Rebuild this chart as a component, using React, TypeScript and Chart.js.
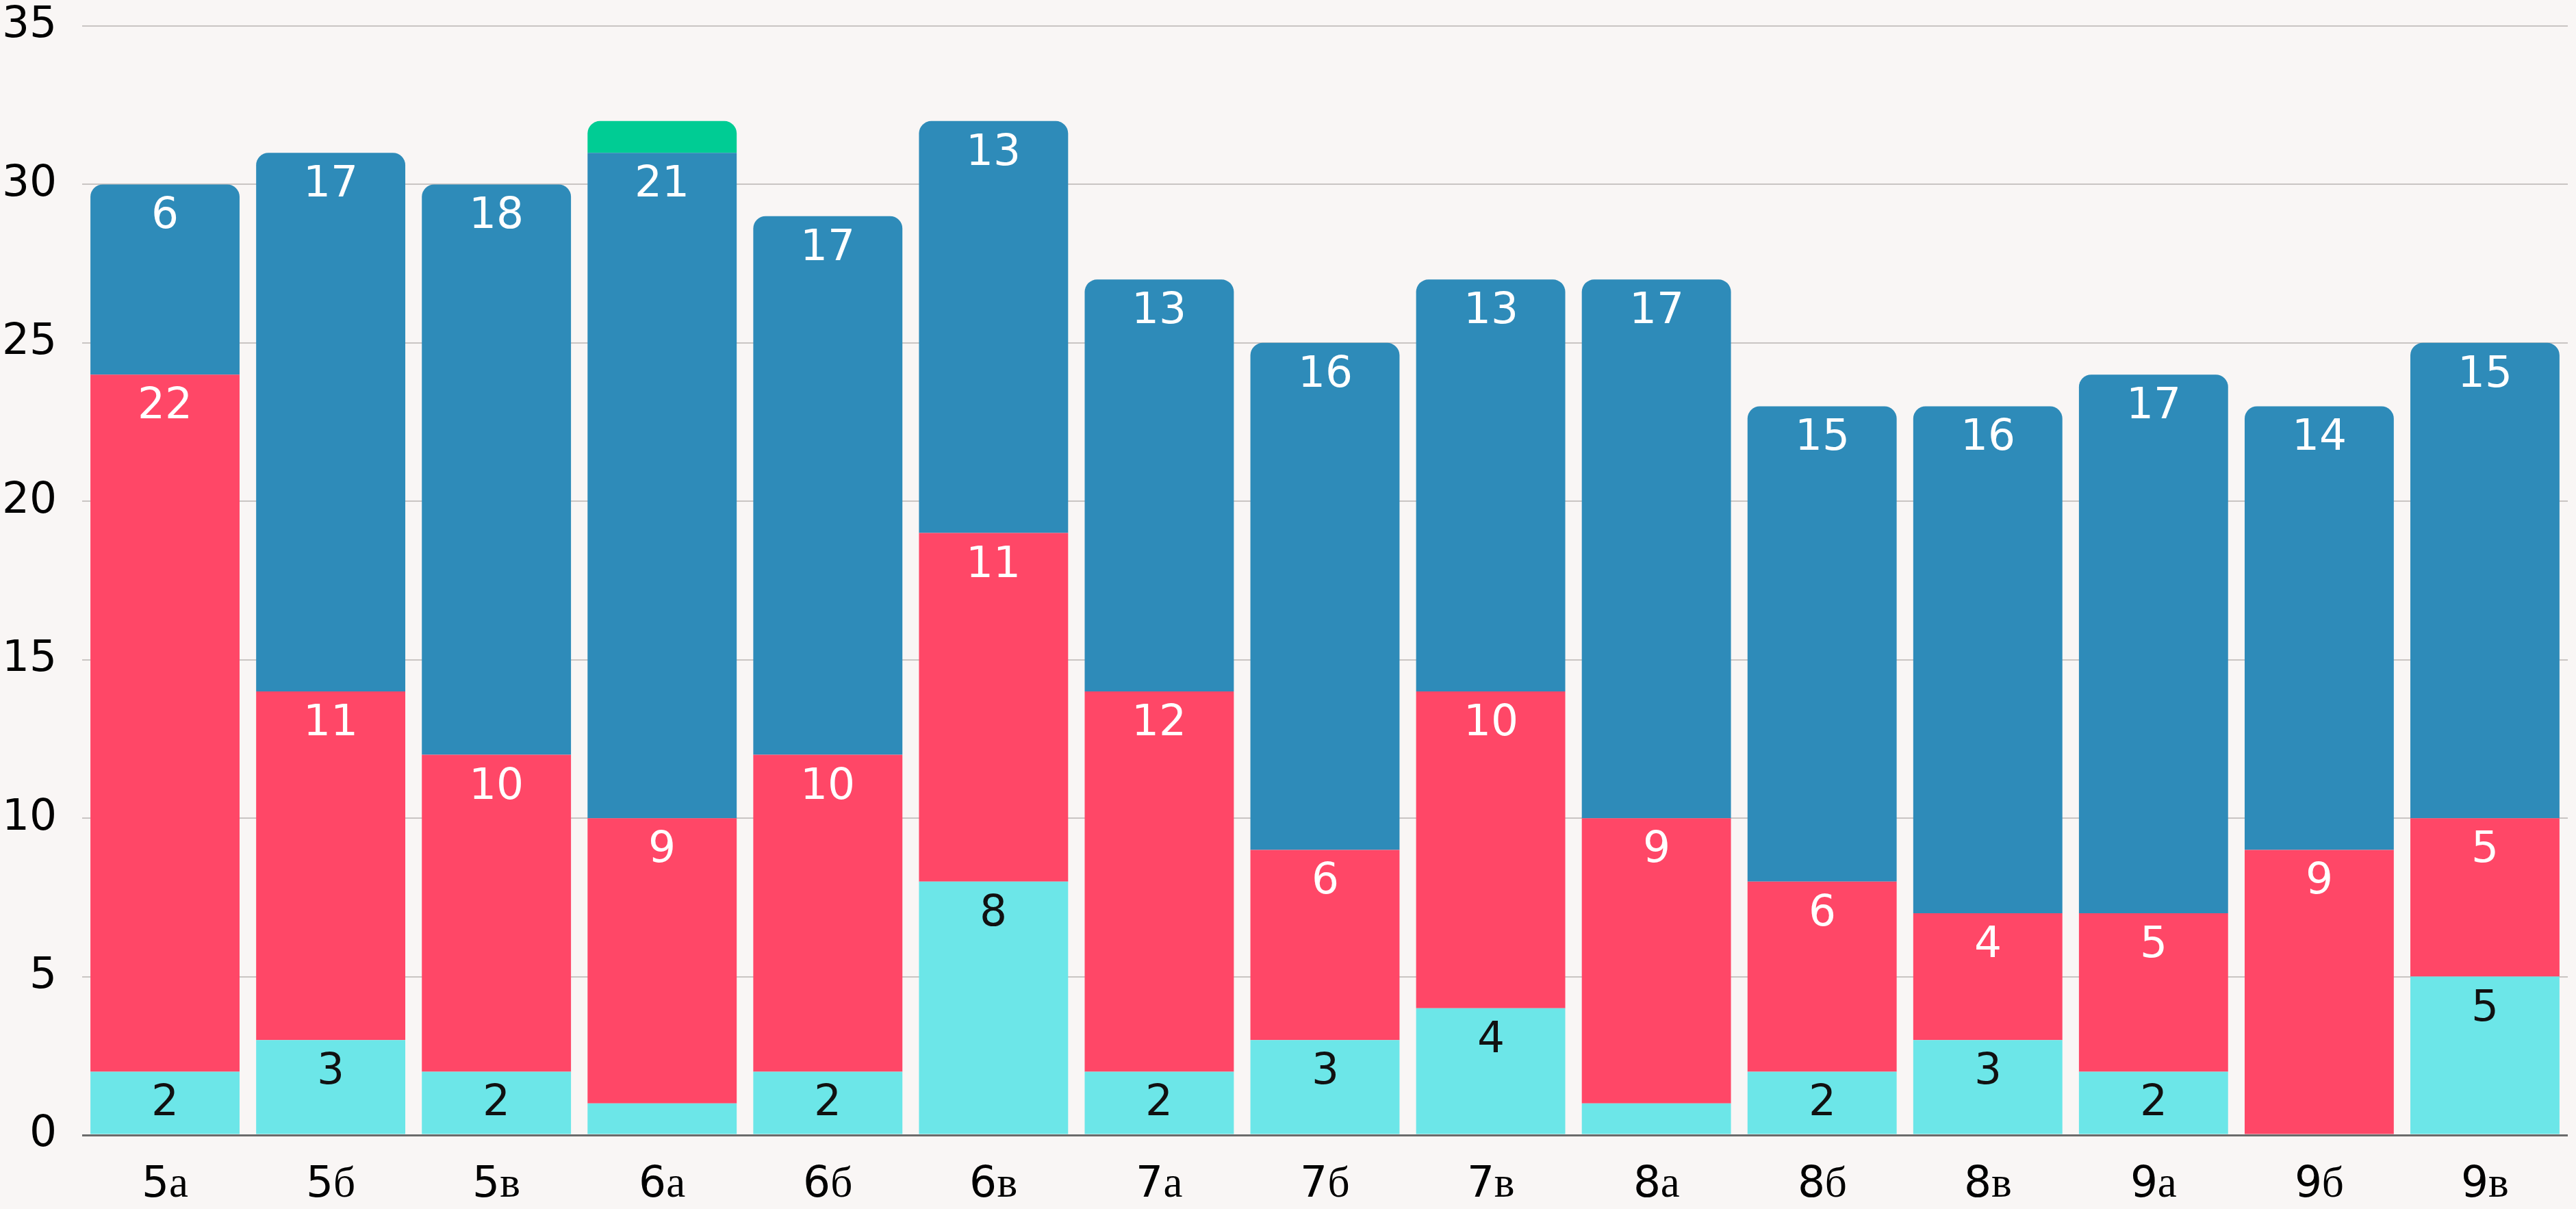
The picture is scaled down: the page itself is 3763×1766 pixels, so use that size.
import React, { useEffect, useRef } from "react";
import { Chart, registerables } from "chart.js";

Chart.register(...registerables);

// ---- data ----
const categories = ["5а", "5б", "5в", "6а", "6б", "6в", "7а", "7б", "7в", "8а", "8б", "8в", "9а", "9б", "9в"];
const seriesNames = ["Группа 1", "Группа 2", "Группа 3", "Группа 4"];
const seriesCyan = [2, 3, 2, 1, 2, 8, 2, 3, 4, 1, 2, 3, 2, 0, 5];
const seriesRed = [22, 11, 10, 9, 10, 11, 12, 6, 10, 9, 6, 4, 5, 9, 5];
const seriesBlue = [6, 17, 18, 21, 17, 13, 13, 16, 13, 17, 15, 16, 17, 14, 15];
const seriesGreen = [0, 0, 0, 1, 0, 0, 0, 0, 0, 0, 0, 0, 0, 0, 0];
const yTickValues = [0, 5, 10, 15, 20, 25, 30, 35];

// ---- styles ----
const W = 3763;
const H = 1766;
const BG = "#f9f6f5";
const COLORS = ["#6ce6e8", "#ff4767", "#2e8bb9", "#00cc94"];
const LABEL_COLORS = ["#111111", "#ffffff", "#ffffff", "#ffffff"];
const FONT = "LabelDigits, 'Liberation Serif', serif";
const FONT_SIZE = 63;
const RADIUS = 18;

const segmentLabels = {
  id: "segmentLabels",
  afterDatasetsDraw(chart: any) {
    const ctx = chart.ctx;
    ctx.save();
    ctx.font = `${FONT_SIZE}px ${FONT}`;
    ctx.textAlign = "center";
    ctx.textBaseline = "alphabetic";
    chart.data.datasets.forEach((ds: any, di: number) => {
      const meta = chart.getDatasetMeta(di);
      meta.data.forEach((bar: any, i: number) => {
        const v = ds.data[i] as number;
        if (!v || v < 2) return;
        ctx.fillStyle = LABEL_COLORS[di];
        ctx.fillText(String(v), bar.x, bar.y + 64);
      });
    });
    ctx.restore();
  },
};

export default function App() {
  const ref = useRef<HTMLCanvasElement | null>(null);

  useEffect(() => {
    document.body.style.margin = "0";
    document.body.style.background = BG;
    let chart: Chart | null = null;
    let cancelled = false;

    const build = () => {
      if (cancelled || !ref.current) return;
      const series = [seriesCyan, seriesRed, seriesBlue, seriesGreen];
      chart = new Chart(ref.current, {
        type: "bar",
        data: {
          labels: categories,
          datasets: series.map((d, k) => ({
            label: seriesNames[k],
            data: d,
            backgroundColor: COLORS[k],
            borderWidth: 0,
            categoryPercentage: 1,
            barPercentage: 0.9,
            borderRadius: (c: any) => {
              const i = c.dataIndex;
              const all = c.chart.data.datasets;
              let top = -1;
              for (let j = all.length - 1; j >= 0; j--) {
                if ((all[j].data[i] as number) > 0) { top = j; break; }
              }
              return c.datasetIndex === top
                ? { topLeft: RADIUS, topRight: RADIUS, bottomLeft: 0, bottomRight: 0 }
                : 0;
            },
          })),
        },
        options: {
          responsive: false,
          devicePixelRatio: 1,
          animation: false,
          layout: { padding: { left: 0, right: 12, top: 0, bottom: 0 } },
          plugins: {
            legend: { display: false },
            tooltip: { enabled: false },
          },
          scales: {
            x: {
              stacked: true,
              grid: { display: false, drawTicks: false },
              border: { display: false },
              afterFit: (scale: any) => {
                scale.height = 108;
              },
              ticks: {
                color: "#000",
                font: { family: FONT, size: FONT_SIZE },
                padding: 36,
                maxRotation: 0,
                autoSkip: false,
              },
            },
            y: {
              stacked: true,
              min: 0,
              max: 35,
              afterBuildTicks: (scale: any) => {
                scale.ticks = yTickValues.map((v) => ({ value: v }));
              },
              afterFit: (scale: any) => {
                scale.width = 120;
                scale.paddingTop = 38;
                scale.paddingBottom = 0;
              },
              grid: {
                drawTicks: false,
                color: (c: any) => (c.tick && c.tick.value === 0 ? "#6b6b6b" : "#c9c5c3"),
                lineWidth: (c: any) => (c.tick && c.tick.value === 0 ? 3 : 2),
              },
              border: { display: false },
              ticks: {
                color: "#000",
                font: { family: FONT, size: FONT_SIZE },
                padding: 37,
              },
            },
          },
        },
        plugins: [segmentLabels],
      });
    };

    try {
      const face = new FontFace("LabelDigits", "local('DejaVu Sans'), local('DejaVuSans')", {
        unicodeRange: "U+0000-007F",
      });
      face
        .load()
        .then((f) => {
          (document as any).fonts.add(f);
          build();
        })
        .catch(() => build());
    } catch (e) {
      build();
    }

    return () => {
      cancelled = true;
      if (chart) chart.destroy();
    };
  }, []);

  return (
    <div style={{ width: W, height: H, background: BG }}>
      <canvas ref={ref} width={W} height={H} style={{ display: "block" }} />
    </div>
  );
}
